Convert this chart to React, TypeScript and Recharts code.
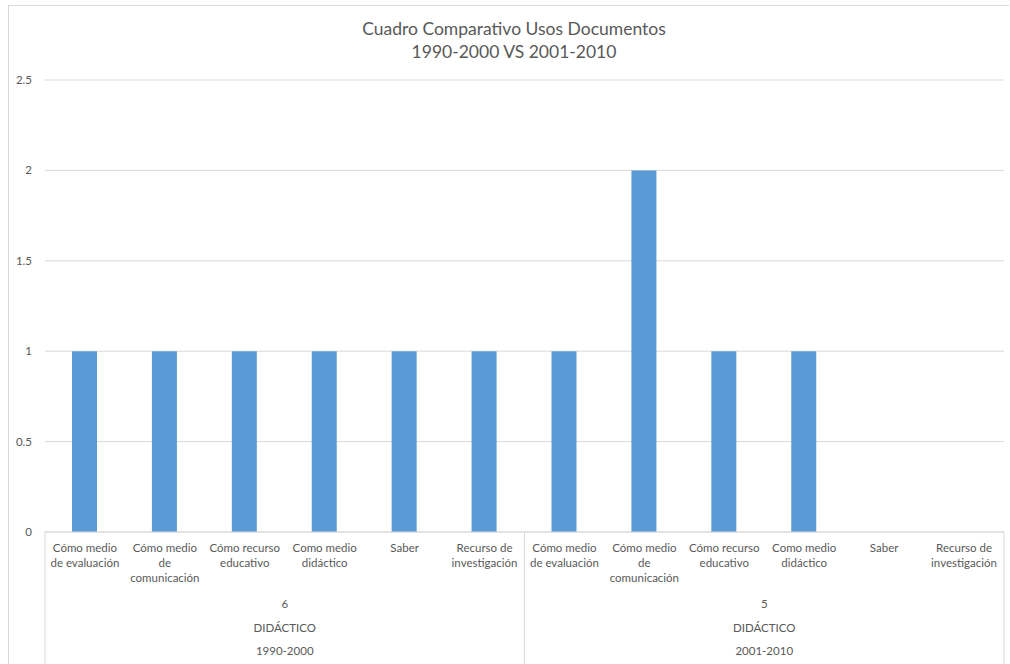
import { BarChart, Bar, XAxis, YAxis, CartesianGrid } from 'recharts';

const categories = [
  'Cómo medio\nde evaluación',
  'Cómo medio\nde\ncomunicación',
  'Cómo recurso\neducativo',
  'Como medio\ndidáctico',
  'Saber',
  'Recurso de\ninvestigación',
  'Cómo medio\nde evaluación',
  'Cómo medio\nde\ncomunicación',
  'Cómo recurso\neducativo',
  'Como medio\ndidáctico',
  'Saber',
  'Recurso de\ninvestigación',
];
const periods = ['1990-2000', '1990-2000', '1990-2000', '1990-2000', '1990-2000', '1990-2000',
  '2001-2010', '2001-2010', '2001-2010', '2001-2010', '2001-2010', '2001-2010'];
const values = [1, 1, 1, 1, 1, 1, 1, 2, 1, 1, 0, 0];

const groupPeriods = ['1990-2000', '2001-2010'];
const groupTotals = ['6', '5'];
const groupNames = ['DIDÁCTICO', 'DIDÁCTICO'];

const yTicks = [0, 0.5, 1, 1.5, 2, 2.5];

const data = categories.map((label, i) => ({ key: i, label, period: periods[i], value: values[i] }));

const W = 1010;
const H = 664;
const PLOT_LEFT = 45;
const PLOT_RIGHT = 1004;
const PLOT_BOTTOM = 532;
const TEXT = '#595959';
const FONT = 'Lato, "Open Sans", sans-serif';

function CategoryTick(props: any) {
  const { x, y, payload } = props;
  const lines = categories[payload.value].split('\n');
  return (
    <g>
      {lines.map((ln: string, i: number) => (
        <text key={i} x={x} y={y + 12 + i * 15} textAnchor="middle" fill={TEXT} fontSize={11.5} fontFamily={FONT}>
          {ln}
        </text>
      ))}
    </g>
  );
}

function GroupTick(props: any) {
  const { x, y, index } = props;
  const half = (PLOT_RIGHT - PLOT_LEFT) / 2;
  const left = x - half / 2;
  return (
    <g>
      <line x1={left} x2={left} y1={PLOT_BOTTOM} y2={H} stroke="#d9d9d9" />
      {index === groupPeriods.length - 1 && (
        <line x1={left + half} x2={left + half} y1={PLOT_BOTTOM} y2={H} stroke="#d9d9d9" />
      )}
      <text x={x} y={y + 11} textAnchor="middle" fill={TEXT} fontSize={11.5} fontFamily={FONT}>{groupTotals[index]}</text>
      <text x={x} y={y + 35} textAnchor="middle" fill={TEXT} fontSize={11.5} fontFamily={FONT}>{groupNames[index]}</text>
      <text x={x} y={y + 58} textAnchor="middle" fill={TEXT} fontSize={11.5} fontFamily={FONT}>{groupPeriods[index]}</text>
    </g>
  );
}

export default function App() {
  return (
    <div style={{ position: 'absolute', left: 0, top: 0, width: W, height: H, background: '#fff', overflow: 'hidden', fontFamily: FONT }}>
      <div style={{ position: 'absolute', left: 8, top: 5, width: 1000, height: 700, borderLeft: '1px solid #d9d9d9', borderTop: '1px solid #d9d9d9' }} />
      <div style={{ position: 'absolute', left: 0, top: 17, width: 1028, textAlign: 'center', color: TEXT, fontSize: 17.5, lineHeight: '23px' }}>
        Cuadro Comparativo Usos Documentos
        <br />
        1990-2000 VS 2001-2010
      </div>
      <BarChart
        width={W}
        height={H}
        data={data}
        margin={{ top: 80, right: W - PLOT_RIGHT, bottom: 0, left: 8 }}
        barCategoryGap={0}
        style={{ position: 'absolute', left: 0, top: 0 }}
      >
        <CartesianGrid vertical={false} stroke="#d9d9d9" />
        <XAxis
          xAxisId="cat"
          dataKey="key"
          type="category"
          height={57}
          interval={0}
          stroke="#d9d9d9"
          tickLine={false}
          tick={<CategoryTick />}
        />
        <XAxis
          xAxisId="grp"
          dataKey="period"
          type="category"
          allowDuplicatedCategory={false}
          height={75}
          interval={0}
          axisLine={false}
          tickLine={false}
          tick={<GroupTick />}
        />
        <YAxis
          width={37}
          domain={[0, 2.5]}
          ticks={yTicks}
          axisLine={false}
          tickLine={false}
          tickMargin={7}
          tick={{ fill: TEXT, fontSize: 11.5, fontFamily: FONT }}
        />
        <Bar xAxisId="cat" dataKey="value" fill="#5b9bd5" barSize={25} isAnimationActive={false} />
      </BarChart>
    </div>
  );
}
